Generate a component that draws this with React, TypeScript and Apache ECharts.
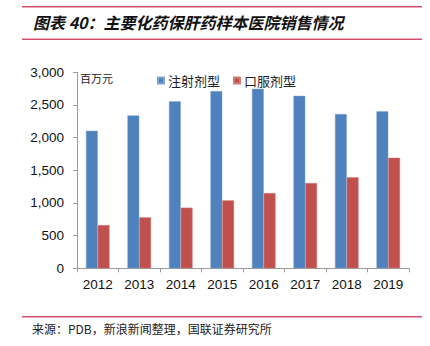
import React, { useEffect, useRef } from "react";
import * as echarts from "echarts";

const categories = ["2012", "2013", "2014", "2015", "2016", "2017", "2018", "2019"];
const injectionValues = [2105, 2340, 2555, 2712, 2748, 2640, 2360, 2402];
const oralValues = [662, 780, 928, 1040, 1152, 1305, 1392, 1692];
const seriesNames = ["注射剂型", "口服剂型"];
const yTicks = { min: 0, max: 3000, interval: 500 };

const titleText = "图表 40：主要化药保肝药样本医院销售情况";
const unitText = "百万元";
const sourceText = "来源：PDB，新浪新闻整理，国联证券研究所";

export default function App() {
  const ref = useRef<HTMLDivElement>(null);
  useEffect(() => {
    if (!ref.current) return;
    const chart = echarts.init(ref.current, null, { renderer: "svg" });
    const cjk = "'Noto Sans CJK SC', sans-serif";
    const latin = "'Liberation Sans', Arial, sans-serif";
    chart.setOption({
      animation: false,
      backgroundColor: "#ffffff",
      grid: { left: 77, right: 21, top: 72.3, bottom: 77.7, containLabel: false },
      legend: {
        data: seriesNames,
        left: 152,
        top: 69,
        icon: "rect",
        itemWidth: 6,
        itemHeight: 6,
        itemGap: 13,
        textStyle: { fontFamily: cjk, fontSize: 13, color: "#222", padding: [0, 0, 0, -1] },
      },
      xAxis: {
        type: "category",
        data: categories,
        boundaryGap: true,
        axisLine: { lineStyle: { color: "#9a9a9a", width: 1 } },
        axisTick: { show: true, alignWithLabel: false, length: 4, lineStyle: { color: "#9a9a9a" } },
        axisLabel: { fontFamily: latin, fontSize: 13.5, color: "#111", margin: 9 },
      },
      yAxis: {
        type: "value",
        min: yTicks.min,
        max: yTicks.max,
        interval: yTicks.interval,
        axisLine: { show: true, lineStyle: { color: "#9a9a9a", width: 1 } },
        axisTick: { show: true, length: 4, lineStyle: { color: "#9a9a9a" } },
        splitLine: { show: false },
        axisLabel: {
          fontFamily: latin,
          fontSize: 13.5,
          color: "#111",
          margin: 13,
          formatter: (v: number) => v.toLocaleString("en-US"),
        },
      },
      series: [
        {
          name: seriesNames[0],
          type: "bar",
          data: injectionValues,
          barWidth: 11.8,
          barGap: "0%",
          itemStyle: { color: "#4F81BD", borderColor: "#7ea3d3", borderWidth: 0.5 },
        },
        {
          name: seriesNames[1],
          type: "bar",
          data: oralValues,
          barWidth: 11.8,
          barGap: "0%",
          itemStyle: { color: "#C0504D", borderColor: "#d27c79", borderWidth: 0.5 },
        },
      ],
      graphic: [
        { type: "line", shape: { x1: 22, y1: 6.7, x2: 422, y2: 6.7 }, style: { stroke: "#D2506A", lineWidth: 1.4 } },
        { type: "line", shape: { x1: 22, y1: 39.3, x2: 422, y2: 39.3 }, style: { stroke: "#D2506A", lineWidth: 1.4 } },
        {
          type: "text",
          left: 33,
          top: 14,
          style: {
            text: titleText,
            fontFamily: cjk,
            fontSize: 16,
            fontWeight: "bold",
            fontStyle: "italic",
            fill: "#111",
          },
        },
        {
          type: "text",
          left: 80,
          top: 72,
          style: { text: unitText, fontFamily: cjk, fontSize: 11, fill: "#222" },
        },
        { type: "line", shape: { x1: 22, y1: 316.7, x2: 422, y2: 316.7 }, style: { stroke: "#D2506A", lineWidth: 1.4 } },
        {
          type: "text",
          left: 32,
          top: 322,
          style: { text: sourceText, fontFamily: cjk, fontSize: 12, fill: "#222" },
        },
      ],
    });
    return () => chart.dispose();
  }, []);
  return (
    <div
      ref={ref}
      style={{ position: "fixed", left: 0, top: 0, width: 430, height: 346, background: "#fff" }}
    />
  );
}
